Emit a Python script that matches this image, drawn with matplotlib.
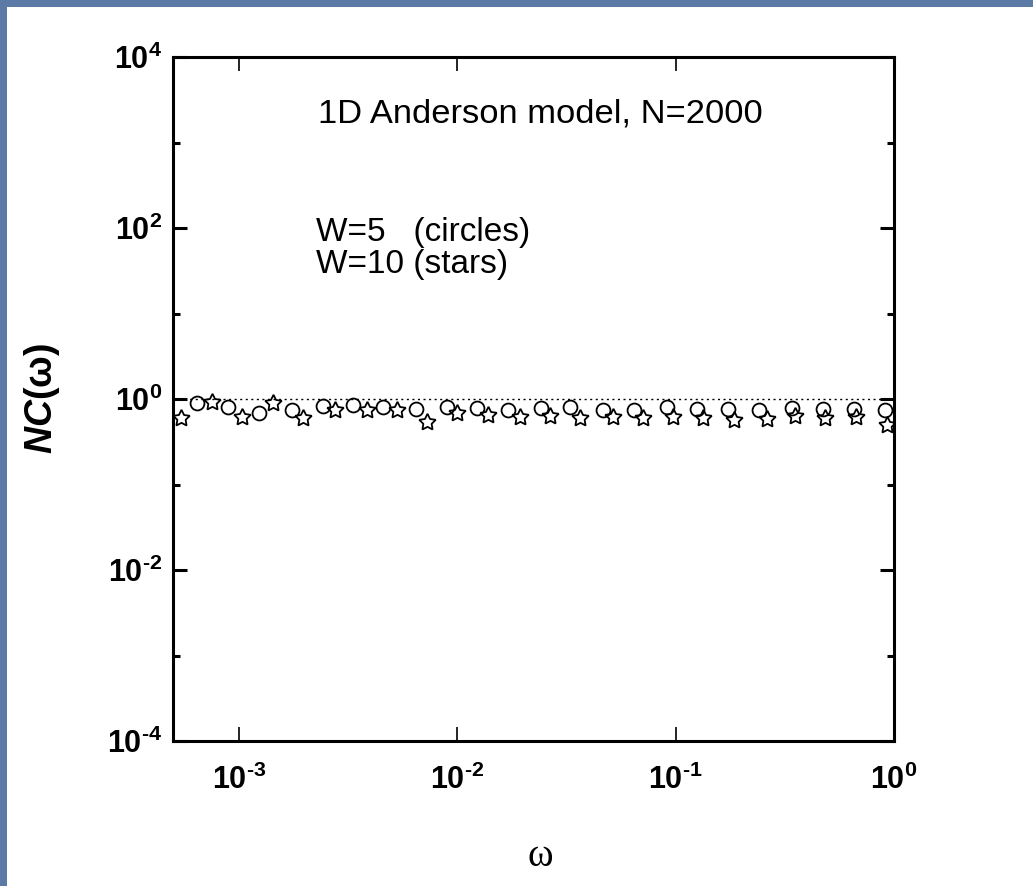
import matplotlib
matplotlib.use("Agg")
import matplotlib.pyplot as plt
from matplotlib.patches import Rectangle
from matplotlib.ticker import FixedLocator, NullFormatter, FixedFormatter
from matplotlib import font_manager

# ---- data ----
omega_circles = [6.42e-4, 8.9e-4, 1.24e-3, 1.75e-3, 2.42e-3, 3.32e-3, 4.56e-3, 6.45e-3,
                 8.95e-3, 1.23e-2, 1.70e-2, 2.41e-2, 3.30e-2, 4.63e-2, 6.48e-2, 9.09e-2,
                 0.125, 0.173, 0.242, 0.340, 0.471, 0.659, 0.905]
nc_circles = [0.90, 0.81, 0.69, 0.75, 0.83, 0.85, 0.81, 0.76,
              0.81, 0.78, 0.74, 0.78, 0.81, 0.74, 0.74, 0.81,
              0.76, 0.76, 0.74, 0.78, 0.76, 0.76, 0.74]
omega_stars = [5.43e-4, 7.52e-4, 1.03e-3, 1.43e-3, 1.96e-3, 2.75e-3, 3.85e-3, 5.28e-3,
               7.25e-3, 1.00e-2, 1.39e-2, 1.93e-2, 2.65e-2, 3.67e-2, 5.15e-2, 7.06e-2,
               9.69e-2, 0.133, 0.186, 0.261, 0.354, 0.485, 0.673, 0.924]
nc_stars = [0.60, 0.92, 0.62, 0.90, 0.60, 0.74, 0.74, 0.74,
            0.54, 0.69, 0.65, 0.62, 0.63, 0.60, 0.62, 0.60,
            0.62, 0.60, 0.57, 0.58, 0.63, 0.60, 0.62, 0.50]
reference_level = 1.0

x_ticks = [1e-3, 1e-2, 1e-1, 1e0]
x_exponents = ['-3', '-2', '-1', '0']
y_major = [1e-4, 1e-2, 1e0, 1e2, 1e4]
y_exponents = ['-4', '-2', '0', '2', '4']
y_minor = [1e-3, 1e-1, 1e1, 1e3]

title_text = "1D Anderson model, N=2000"
legend_line1 = "W=5   (circles)"
legend_line2 = "W=10 (stars)"
ylabel_text = r'$\mathit{NC}$(ω)'
xlabel_text = 'ω'

# ---- fonts ----
def available(name):
    try:
        font_manager.findfont(font_manager.FontProperties(family=name),
                              fallback_to_default=False)
        return True
    except Exception:
        return False

tick_family = 'Liberation Sans Narrow' if available('Liberation Sans Narrow') else 'Liberation Sans'
tick_size = 26 if tick_family == 'Liberation Sans Narrow' else 22

plt.rcParams['font.family'] = ['Liberation Sans', 'DejaVu Sans']
plt.rcParams['mathtext.fontset'] = 'custom'
plt.rcParams['mathtext.rm'] = tick_family + ':bold'
plt.rcParams['mathtext.it'] = 'Liberation Sans:italic:bold'
plt.rcParams['mathtext.bf'] = tick_family + ':bold'


def sup_label(e):
    return r'$\mathrm{10^{\text{%s}}}$' % e


x_ticklabels = [sup_label(e) for e in x_exponents]
y_ticklabels = [sup_label(e) for e in y_exponents]

W, H = 1033, 886
fig = plt.figure(figsize=(W / 100, H / 100), dpi=100)
fig.patch.set_facecolor('#5b7aa5')
bg = Rectangle((7 / W, 0), 1 - 7 / W, 1 - 7 / H, transform=fig.transFigure,
               facecolor='white', edgecolor='none', zorder=-10)
fig.patches.append(bg)

left, right, top, bottom = 173, 894, 57, 741
ax = fig.add_axes([left / W, 1 - bottom / H, (right - left) / W, (bottom - top) / H])
ax.set_zorder(5)
ax.set_facecolor('white')
ax.set_xscale('log')
ax.set_yscale('log')
ax.set_xlim(5e-4, 1.0)
ax.set_ylim(1e-4, 1e4)

ax.axhline(reference_level, color='black', lw=1.0, ls=(0, (1.5, 2.5)), zorder=1)

ax.plot(omega_circles, nc_circles, ls='none', marker='o', ms=10, mfc='none',
        mec='black', mew=1.3, zorder=3)
ax.plot(omega_stars, nc_stars, ls='none', marker=(5, 1, 0), ms=12.5, mfc='none',
        mec='black', mew=1.3, zorder=3)

for s in ax.spines.values():
    s.set_linewidth(2.2)

ax.xaxis.set_major_locator(FixedLocator(x_ticks))
ax.xaxis.set_major_formatter(FixedFormatter(x_ticklabels))
ax.xaxis.set_minor_locator(FixedLocator([]))
ax.yaxis.set_major_locator(FixedLocator(y_major))
ax.yaxis.set_major_formatter(FixedFormatter(y_ticklabels))
ax.yaxis.set_minor_locator(FixedLocator(y_minor))
ax.yaxis.set_minor_formatter(NullFormatter())

ax.tick_params(axis='x', which='major', direction='in', length=10, width=1.2,
               top=True, bottom=True, labelsize=tick_size, pad=17)
ax.tick_params(axis='y', which='major', direction='in', length=10, width=2.2,
               left=True, right=True, labelsize=tick_size, pad=8)
ax.tick_params(axis='y', which='minor', direction='in', length=5, width=2.2,
               left=True, right=True)

fig.text(318 / W, 1 - 114 / H, title_text, fontsize=24.8, va='center', ha='left', zorder=10)
fig.text(316 / W, 1 - 232 / H, legend_line1, fontsize=24, va='center', ha='left', zorder=10)
fig.text(316 / W, 1 - 265 / H, legend_line2, fontsize=24, va='center', ha='left', zorder=10)

fig.text(42 / W, 1 - 399 / H, ylabel_text, rotation=90, fontsize=27,
         fontweight='bold', va='center', ha='center', zorder=10)
fig.text(540 / W, 1 - 857 / H, xlabel_text, fontsize=28,
         family=['Liberation Serif', 'DejaVu Serif'], va='center', ha='center', zorder=10)

fig.savefig('out.png', dpi=100, facecolor=fig.get_facecolor())
